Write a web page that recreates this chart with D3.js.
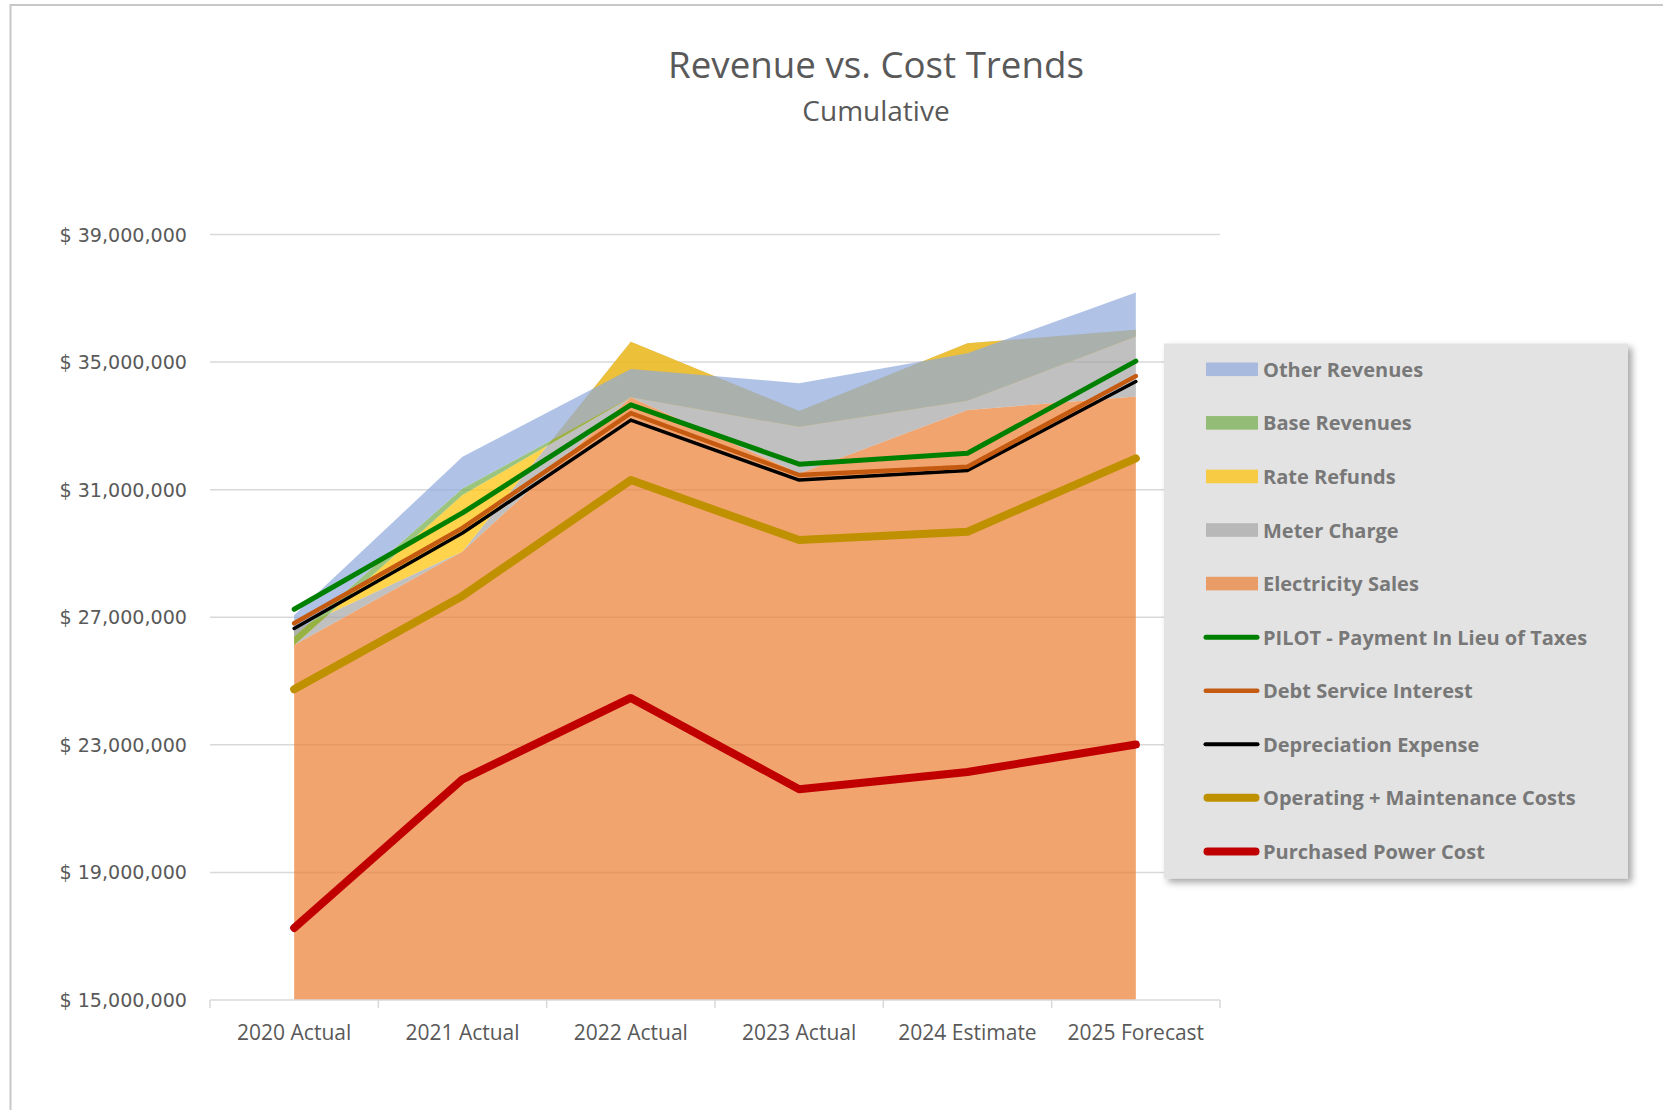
<!DOCTYPE html>
<html>
<head>
<meta charset="utf-8">
<script src="https://cdn.jsdelivr.net/npm/d3@7"></script>
<style>
  html, body { margin: 0; padding: 0; background: #ffffff; }
  svg { display: block; }
</style>
</head>
<body>
<div id="chart"></div>
<script>
// ---------------- DATA ----------------
const categories = ["2020 Actual", "2021 Actual", "2022 Actual", "2023 Actual", "2024 Estimate", "2025 Forecast"];

// Stacked area series (bottom of stack first); values in dollars
const electricitySales = [26130000, 29060000, 33900000, 31510000, 33500000, 33920000];
const meterCharge      = [  470000,        0,  1740000,  1960000,  2090000,  2090000];
const rateRefunds      = [ -470000,  1770000, -1740000,  -500000, -1800000,  -210000];
const baseRevenues     = [  260000,   210000,        0,        0,        0,        0];
const otherRevenues    = [  680000,   990000,   880000,  1370000,  1490000,  1380000];

// Cumulative cost lines
const pilot                = [27250000, 30270000, 33660000, 31800000, 32140000, 35030000];
const debtServiceInterest  = [26810000, 29800000, 33400000, 31460000, 31720000, 34560000];
const depreciationExpense  = [26650000, 29640000, 33180000, 31300000, 31600000, 34390000];
const operatingMaintenance = [24740000, 27670000, 31300000, 29420000, 29680000, 31980000];
const purchasedPower       = [17260000, 21920000, 24470000, 21610000, 22150000, 23010000];

const yTicks = [15000000, 19000000, 23000000, 27000000, 31000000, 35000000, 39000000];

const titleText = "Revenue vs. Cost Trends";
const subtitleText = "Cumulative";

// ---------------- SERIES DEFINITIONS ----------------
const areaSeries = [
  { name: "Electricity Sales", values: electricitySales, color: "#ED7D31" },
  { name: "Meter Charge",      values: meterCharge,      color: "#A5A5A5" },
  { name: "Rate Refunds",      values: rateRefunds,      color: "#FFC000" },
  { name: "Base Revenues",     values: baseRevenues,     color: "#70AD47" },
  { name: "Other Revenues",    values: otherRevenues,    color: "#8FAADC" }
];
const lineSeries = [
  { name: "Purchased Power Cost",             values: purchasedPower,       color: "#C00000", width: 8 },
  { name: "Operating + Maintenance Costs",    values: operatingMaintenance, color: "#BF9000", width: 8 },
  { name: "Depreciation Expense",             values: depreciationExpense,  color: "#000000", width: 3.5 },
  { name: "Debt Service Interest",            values: debtServiceInterest,  color: "#C55A11", width: 4.5 },
  { name: "PILOT - Payment In Lieu of Taxes", values: pilot,                color: "#008000", width: 5 }
];

// ---------------- LAYOUT ----------------
const W = 1663, H = 1110;
const plot = { left: 210, right: 1220, top: 234.5, bottom: 1000 };
const AREA_OPACITY = 0.7;

const svg = d3.select("#chart").append("svg")
  .attr("width", W).attr("height", H)
  .style("font-family", "'Open Sans', 'Noto Sans', sans-serif");

svg.append("rect").attr("width", W).attr("height", H).attr("fill", "#ffffff");

// chart-area border (extends beyond view on right/bottom)
svg.append("rect")
  .attr("x", 10.5).attr("y", 5).attr("width", 2000).attr("height", 2000)
  .attr("fill", "none").attr("stroke", "#C8C8C8").attr("stroke-width", 2);

const defs = svg.append("defs");
defs.append("clipPath").attr("id", "plotClip")
  .append("rect")
  .attr("x", plot.left).attr("y", plot.top - 50)
  .attr("width", plot.right - plot.left).attr("height", plot.bottom - plot.top + 50);

const shadow = defs.append("filter").attr("id", "legendShadow")
  .attr("x", "-10%").attr("y", "-10%").attr("width", "130%").attr("height", "130%");
shadow.append("feDropShadow")
  .attr("dx", 4).attr("dy", 4).attr("stdDeviation", 3.5)
  .attr("flood-color", "#000").attr("flood-opacity", 0.35);

// ---------------- SCALES ----------------
const x = d3.scaleBand().domain(categories).range([plot.left, plot.right]).padding(0);
const xc = c => x(c) + x.bandwidth() / 2;
const y = d3.scaleLinear().domain([15000000, 39000000]).range([plot.bottom, plot.top]).clamp(true);

// ---------------- TITLE ----------------
svg.append("text").attr("x", 876).attr("y", 78)
  .attr("text-anchor", "middle").attr("fill", "#595959")
  .style("font-size", "36.7px").text(titleText);
svg.append("text").attr("x", 876).attr("y", 121)
  .attr("text-anchor", "middle").attr("fill", "#595959")
  .style("font-size", "28px").text(subtitleText);

// ---------------- GRIDLINES + Y LABELS ----------------
const gridG = svg.append("g");
gridG.selectAll("line").data(yTicks.slice(1)).join("line")
  .attr("x1", plot.left).attr("x2", plot.right)
  .attr("y1", d => y(d)).attr("y2", d => y(d))
  .attr("stroke", "#D9D9D9").attr("stroke-width", 1.5);

svg.append("g").selectAll("text").data(yTicks).join("text")
  .attr("x", 187).attr("y", d => y(d) + 7)
  .attr("text-anchor", "end").attr("fill", "#595959")
  .style("font-family", "'DejaVu Sans', Verdana, sans-serif")
  .style("font-size", "19.1px")
  .text(d => "$ " + d3.format(",")(d));

// ---------------- STACKED AREAS ----------------
const n = categories.length;
let lower = new Array(n).fill(0);
const stacked = areaSeries.map(s => {
  const upper = lower.map((v, i) => v + s.values[i]);
  const pts = categories.map((c, i) => ({ c, y0: lower[i], y1: upper[i] }));
  lower = upper;
  return { ...s, pts };
});

const areaGen = d3.area()
  .x(d => xc(d.c))
  .y0(d => y(d.y0))
  .y1(d => y(d.y1));

const areaG = svg.append("g").attr("clip-path", "url(#plotClip)");
areaG.selectAll("path").data(stacked).join("path")
  .attr("d", d => areaGen(d.pts))
  .attr("fill", d => d.color)
  .attr("fill-opacity", AREA_OPACITY)
  .attr("stroke", "none");

// ---------------- X AXIS ----------------
svg.append("line")
  .attr("x1", plot.left).attr("x2", plot.right)
  .attr("y1", y(15000000)).attr("y2", y(15000000))
  .attr("stroke", "#D9D9D9").attr("stroke-width", 1.5);
const tickXs = categories.map(c => x(c)).concat([plot.right]);
svg.append("g").selectAll("line").data(tickXs).join("line")
  .attr("x1", d => d).attr("x2", d => d)
  .attr("y1", plot.bottom).attr("y2", plot.bottom + 8)
  .attr("stroke", "#D9D9D9").attr("stroke-width", 1.5);
svg.append("g").selectAll("text").data(categories).join("text")
  .attr("x", d => xc(d)).attr("y", 1040)
  .attr("text-anchor", "middle").attr("fill", "#595959")
  .style("font-size", "21px")
  .text(d => d);

// ---------------- LINES ----------------
const lineGen = d3.line().x((d, i) => xc(categories[i])).y(d => y(d));
svg.append("g").selectAll("path").data(lineSeries).join("path")
  .attr("d", d => lineGen(d.values))
  .attr("fill", "none")
  .attr("stroke", d => d.color)
  .attr("stroke-width", d => d.width)
  .attr("stroke-linecap", "round")
  .attr("stroke-linejoin", "round");

// ---------------- LEGEND ----------------
const legendItems = [
  { name: "Other Revenues",    type: "area", color: "#8FAADC" },
  { name: "Base Revenues",     type: "area", color: "#70AD47" },
  { name: "Rate Refunds",      type: "area", color: "#FFC000" },
  { name: "Meter Charge",      type: "area", color: "#A5A5A5" },
  { name: "Electricity Sales", type: "area", color: "#ED7D31" },
  { name: "PILOT - Payment In Lieu of Taxes", type: "line", color: "#008000", width: 5 },
  { name: "Debt Service Interest",            type: "line", color: "#C55A11", width: 4.5 },
  { name: "Depreciation Expense",             type: "line", color: "#000000", width: 4 },
  { name: "Operating + Maintenance Costs",    type: "line", color: "#BF9000", width: 8 },
  { name: "Purchased Power Cost",             type: "line", color: "#C00000", width: 8 }
];
const legend = { x: 1164, y: 343.5, w: 464, h: 535 };
const lg = svg.append("g");
lg.append("rect")
  .attr("x", legend.x).attr("y", legend.y)
  .attr("width", legend.w).attr("height", legend.h)
  .attr("fill", "#E3E3E3")
  .attr("filter", "url(#legendShadow)");

const rowY = i => 369.3 + i * 53.57;
const rows = lg.selectAll("g.row").data(legendItems).join("g").attr("class", "row");
rows.filter(d => d.type === "area").append("rect")
  .attr("x", 1206).attr("y", (d) => rowY(legendItems.indexOf(d)) - 6.8)
  .attr("width", 52).attr("height", 13.6)
  .attr("fill", d => d.color).attr("fill-opacity", AREA_OPACITY);
rows.filter(d => d.type === "line").append("line")
  .attr("x1", d => 1203.5 + d.width / 2).attr("x2", d => 1259.5 - d.width / 2)
  .attr("y1", d => rowY(legendItems.indexOf(d))).attr("y2", d => rowY(legendItems.indexOf(d)))
  .attr("stroke", d => d.color).attr("stroke-width", d => d.width)
  .attr("stroke-linecap", "round");
rows.append("text")
  .attr("x", 1263).attr("y", d => rowY(legendItems.indexOf(d)) + 7.5)
  .attr("fill", "#787878")
  .style("font-size", "20px").style("font-weight", "700")
  .text(d => d.name);
</script>
</body>
</html>
